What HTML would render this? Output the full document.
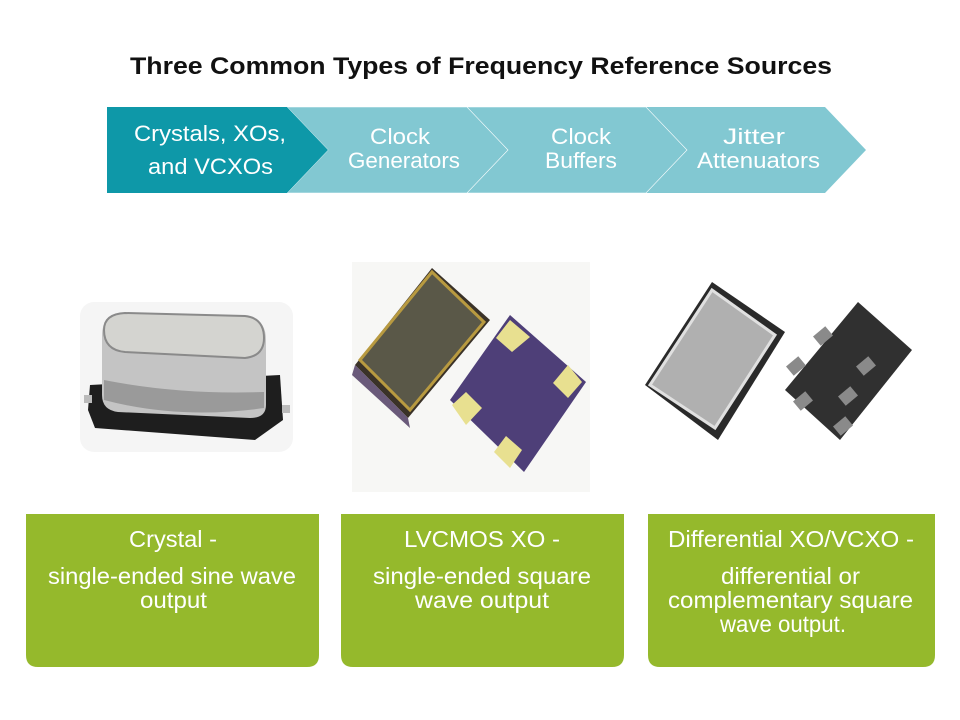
<!DOCTYPE html>
<html><head><meta charset="utf-8"><style>
html,body{margin:0;padding:0;background:#fff;}
svg{display:block;}
text{font-family:"Liberation Sans",Arial,sans-serif;}
</style></head><body>
<svg width="960" height="720" viewBox="0 0 960 720">
<rect width="960" height="720" fill="#fff"/>
<text x="130" y="74" font-size="24" font-weight="bold" fill="#111" textLength="702" lengthAdjust="spacingAndGlyphs">Three Common Types of Frequency Reference Sources</text>
<!-- chevrons -->
<polygon points="645,107 825,107 866,150 825,193 645,193 686,150" fill="#82c8d2"/>
<polygon points="466,107 646,107 687,150 646,193 466,193 507,150" fill="#82c8d2" stroke="#fff" stroke-width="0.6"/>
<polygon points="287,107 467,107 508,150 467,193 287,193 328,150" fill="#82c8d2" stroke="#fff" stroke-width="0.6"/>
<polygon points="107,107 287,107 328,150 287,193 107,193" fill="#0e98a8"/>
<g fill="#fff" font-size="22">
<text x="134" y="141" textLength="152" lengthAdjust="spacingAndGlyphs">Crystals, XOs,</text>
<text x="148" y="174" textLength="125" lengthAdjust="spacingAndGlyphs">and VCXOs</text>
<text x="370" y="144" textLength="60" lengthAdjust="spacingAndGlyphs">Clock</text>
<text x="348" y="168" textLength="112" lengthAdjust="spacingAndGlyphs">Generators</text>
<text x="551" y="144" textLength="60" lengthAdjust="spacingAndGlyphs">Clock</text>
<text x="545" y="168" textLength="72" lengthAdjust="spacingAndGlyphs">Buffers</text>
<text x="723" y="144" textLength="62" lengthAdjust="spacingAndGlyphs">Jitter</text>
<text x="697" y="168" textLength="123" lengthAdjust="spacingAndGlyphs">Attenuators</text>
</g>
<!-- image 1: crystal -->
<rect x="80" y="302" width="213" height="150" rx="14" fill="#f5f5f5"/>
<polygon points="90,385 280,375 283,420 255,440 95,428 88,410" fill="#1e1e1e"/>
<rect x="84" y="395" width="8" height="8" fill="#bbb"/>
<rect x="282" y="405" width="8" height="8" fill="#bbb"/>
<path d="M102,335 Q102,315 125,313 L245,316 Q266,318 266,340 L266,405 Q266,418 250,418 L118,412 Q102,410 102,395 Z" fill="#c4c4c4"/>
<path d="M104,330 Q104,314 125,313 L245,316 Q264,318 264,338 Q264,356 245,358 L125,352 Q104,350 104,330 Z" fill="#d4d4d0" stroke="#8a8a8a" stroke-width="2"/>
<path d="M104,380 Q180,395 264,392 L264,408 Q180,420 104,400 Z" fill="#9a9a9a"/>
<!-- image 2 -->
<rect x="352" y="262" width="238" height="230" fill="#f7f7f5"/>
<polygon points="355,365 432,268 490,320 408,418" fill="#3a3228"/>
<polygon points="360,360 432,272 484,322 410,410" fill="#5a5848" stroke="#b89a40" stroke-width="3"/>
<polygon points="355,365 408,418 410,428 352,375" fill="#6a5a7a"/>
<polygon points="510,315 586,382 524,472 450,400" fill="#4e3f78"/>
<polygon points="510,320 530,337 512,352 496,338" fill="#e8e090"/>
<polygon points="568,365 582,382 568,398 553,383" fill="#e8e090"/>
<polygon points="466,392 482,408 466,425 452,405" fill="#e8e090"/>
<polygon points="506,436 522,450 510,468 494,452" fill="#e8e090"/>
<!-- image 3 -->
<polygon points="645,385 712,282 785,332 718,440" fill="#2a2a2a"/>
<polygon points="650,385 712,290 775,335 715,428" fill="#b0b0b0" stroke="#e0e0e0" stroke-width="3"/>
<polygon points="785,390 858,302 912,350 840,440" fill="#303030"/>
<g fill="#8a8a8a">
<rect x="815" y="330" width="16" height="12" transform="rotate(-40 823 336)"/>
<rect x="788" y="360" width="16" height="12" transform="rotate(-40 796 366)"/>
<rect x="795" y="395" width="16" height="12" transform="rotate(-40 803 401)"/>
<rect x="858" y="360" width="16" height="12" transform="rotate(-40 866 366)"/>
<rect x="840" y="390" width="16" height="12" transform="rotate(-40 848 396)"/>
<rect x="835" y="420" width="16" height="12" transform="rotate(-40 843 426)"/>
</g>
<!-- green boxes -->
<g fill="#95b92c">
<path d="M26,514 H319 V655 Q319,667 307,667 H38 Q26,667 26,655 Z"/>
<path d="M341,514 H624 V655 Q624,667 612,667 H353 Q341,667 341,655 Z"/>
<path d="M648,514 H935 V655 Q935,667 923,667 H660 Q648,667 648,655 Z"/>
</g>
<g fill="#fff" font-size="23">
<text x="129" y="547" textLength="88" lengthAdjust="spacingAndGlyphs">Crystal -</text>
<text x="48" y="584" textLength="248" lengthAdjust="spacingAndGlyphs">single-ended sine wave</text>
<text x="140" y="608" textLength="67" lengthAdjust="spacingAndGlyphs">output</text>
<text x="404" y="547" textLength="156" lengthAdjust="spacingAndGlyphs">LVCMOS XO -</text>
<text x="373" y="584" textLength="218" lengthAdjust="spacingAndGlyphs">single-ended square</text>
<text x="415" y="608" textLength="134" lengthAdjust="spacingAndGlyphs">wave output</text>
<text x="668" y="547" textLength="246" lengthAdjust="spacingAndGlyphs">Differential XO/VCXO -</text>
<text x="721" y="584" textLength="139" lengthAdjust="spacingAndGlyphs">differential or</text>
<text x="668" y="608" textLength="245" lengthAdjust="spacingAndGlyphs">complementary square</text>
<text x="720" y="632" textLength="126" lengthAdjust="spacingAndGlyphs">wave output.</text>
</g>
</svg>
</body></html>
